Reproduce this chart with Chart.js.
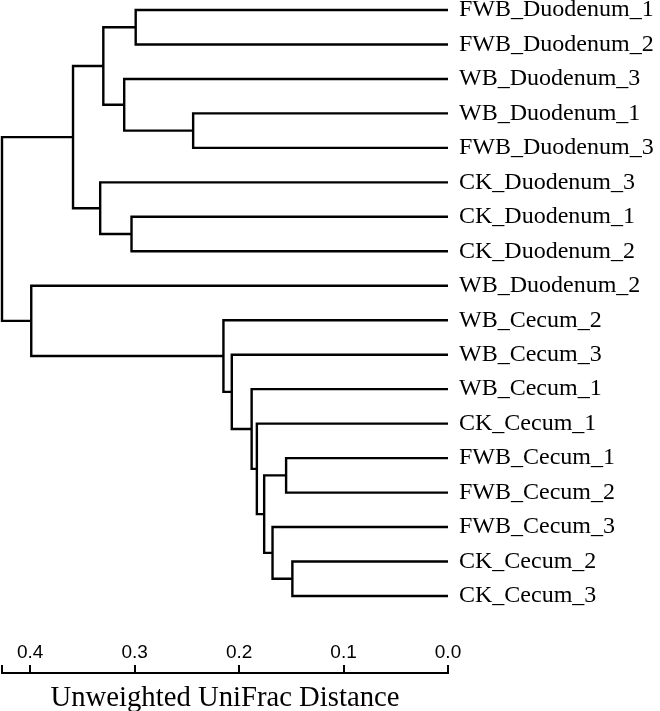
<!DOCTYPE html>
<html>
<head>
<meta charset="utf-8">
<script src="https://cdn.jsdelivr.net/npm/chart.js@4/dist/chart.umd.min.js"></script>
<style>
  html, body { margin: 0; padding: 0; background: #fff; }
  #tree { display: block; }
</style>
</head>
<body>
<canvas id="tree" width="660" height="711"></canvas>
<script>
// Leaves, top to bottom
const leaves = [
    'FWB_Duodenum_1', 'FWB_Duodenum_2', 'WB_Duodenum_3', 'WB_Duodenum_1',
    'FWB_Duodenum_3', 'CK_Duodenum_3', 'CK_Duodenum_1', 'CK_Duodenum_2',
    'WB_Duodenum_2', 'WB_Cecum_2', 'WB_Cecum_3', 'WB_Cecum_1', 'CK_Cecum_1',
    'FWB_Cecum_1', 'FWB_Cecum_2', 'FWB_Cecum_3', 'CK_Cecum_2', 'CK_Cecum_3'
];

// Merges (linkage style): node id = leaves.length + index
const mergeA = [0, 3, 2, 18, 6, 5, 21, 16, 15, 13, 27, 12, 11, 10, 9, 8, 24];
const mergeB = [1, 4, 19, 20, 7, 22, 23, 17, 25, 14, 26, 28, 29, 30, 31, 32, 33];
const mergeHeight = [0.299, 0.244, 0.310, 0.330, 0.303, 0.333, 0.359, 0.149, 0.168,
                     0.155, 0.176, 0.183, 0.188, 0.207, 0.215, 0.399, 0.427];

// Axis
const xTickValues = [0.4, 0.3, 0.2, 0.1, 0.0];
const axisTitle = 'Unweighted UniFrac Distance';

// Build the elbows
const nodeY = leaves.map((_, i) => i);
const nodeH = leaves.map(() => 0);
const datasets = [];
mergeA.forEach((a, k) => {
    const b = mergeB[k];
    const h = mergeHeight[k];
    nodeY.push((nodeY[a] + nodeY[b]) / 2);
    nodeH.push(h);
    datasets.push({
        data: [
            { x: nodeH[a], y: nodeY[a] },
            { x: h, y: nodeY[a] },
            { x: h, y: nodeY[b] },
            { x: nodeH[b], y: nodeY[b] }
        ],
        borderColor: '#000',
        borderWidth: 2.4,
        borderJoinStyle: 'miter',
        borderCapStyle: 'butt',
        pointRadius: 0,
        tension: 0,
        fill: false,
        clip: false
    });
});
const rootHeight = mergeHeight[mergeHeight.length - 1];

new Chart(document.getElementById('tree'), {
    type: 'line',
    data: { datasets },
    options: {
        responsive: false,
        animation: false,
        layout: { padding: { left: 2, top: 0, right: 0, bottom: 0 } },
        plugins: { legend: { display: false }, tooltip: { enabled: false } },
        scales: {
            x: {
                type: 'linear',
                reverse: true,
                min: 0,
                max: rootHeight,
                afterBuildTicks: s => {
                    s.ticks = [{ value: rootHeight }].concat(xTickValues.map(v => ({ value: v })));
                },
                afterFit: s => { s.height = 38; s.paddingLeft = 0; s.paddingRight = 0; },
                border: { display: true, color: '#000', width: 2 },
                grid: { display: true, drawOnChartArea: false, drawTicks: true, tickLength: -8, color: '#000', lineWidth: 2 },
                ticks: {
                    // mirrored so the labels sit above the axis line
                    mirror: true,
                    padding: 10.5,
                    autoSkip: false,
                    maxRotation: 0,
                    color: '#000',
                    font: { family: 'Liberation Sans', size: 19, lineHeight: 1 },
                    callback: v => xTickValues.includes(v) ? v.toFixed(1) : ''
                },
                title: {
                    display: true,
                    text: axisTitle,
                    color: '#000',
                    font: { family: 'Liberation Serif', size: 28.7, lineHeight: 1 },
                    padding: { top: 0, bottom: -2 }
                }
            },
            y: {
                type: 'linear',
                position: 'right',
                reverse: true,
                min: -0.29,
                max: 19.234,
                afterBuildTicks: s => { s.ticks = leaves.map((_, i) => ({ value: i })); },
                afterFit: s => { s.width = 212; s.paddingTop = 0; s.paddingBottom = 0; },
                border: { display: false },
                grid: { display: false, drawTicks: false },
                ticks: {
                    padding: 11,
                    color: '#000',
                    font: { family: 'Liberation Serif', size: 24, lineHeight: 1 },
                    callback: v => leaves[v] ?? ''
                }
            }
        }
    }
});
</script>
</body>
</html>
